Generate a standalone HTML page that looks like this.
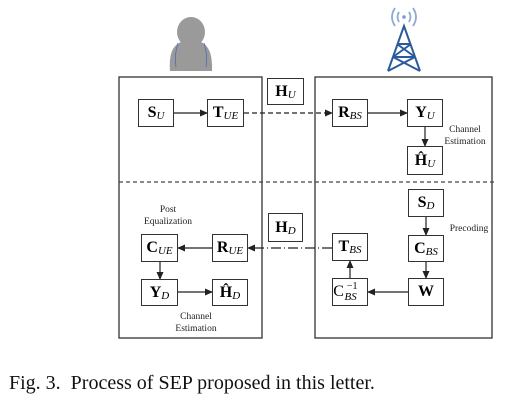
<!DOCTYPE html>
<html><head><style>
body{margin:0;width:513px;height:403px;background:#fff;overflow:hidden;font-family:"Liberation Serif",serif;}
.b{position:absolute;border:1.3px solid #333;box-sizing:border-box;display:flex;align-items:center;justify-content:center;font-size:16px;background:#fff;}
.b b{font-weight:bold}
.b i{font-size:11px;font-style:italic;position:relative;top:3px}
.t{position:absolute;font-size:9.5px;color:#222;text-align:center;line-height:12px}
</style></head><body>
<svg width="513" height="403" style="position:absolute;left:0;top:0">
<defs><marker id="a" markerWidth="8" markerHeight="8" refX="7" refY="4" orient="auto" markerUnits="userSpaceOnUse"><path d="M0,0.5 L8,4 L0,7.5z" fill="#222"/></marker></defs>
<!-- person -->
<ellipse cx="191" cy="32" rx="14" ry="15" fill="#9a9a9a"/>
<path d="M170,71 Q168,47 181,42 L201,42 Q213,47 212,71 Z" fill="#9a9a9a"/>
<path d="M178,43 Q174,55 176,67 M204,43 Q208,55 206,67" stroke="#4a6fb0" fill="none" stroke-width="0.8"/>
<!-- tower -->
<g stroke="#2b5c9a" stroke-width="2" fill="none">
<path d="M388,71 L404,26 L420,71 M393,57 L415,57 M397,44 L411,44 M393,57 L411,44 M415,57 L397,44 M388,71 L415,57 M420,71 L393,57"/>
</g>
<circle cx="404" cy="17" r="1.8" fill="#7a9bd0"/>
<g stroke="#8fa9d6" stroke-width="1.8" fill="none">
<path d="M399,12 Q396,17 399,22 M409,12 Q412,17 409,22 M395,8 Q389,17 395,26 M413,8 Q419,17 413,26"/>
</g>
<rect x="119" y="77" width="143" height="261" fill="none" stroke="#333" stroke-width="1.3"/>
<rect x="315" y="77" width="177" height="261" fill="none" stroke="#333" stroke-width="1.3"/>
<line x1="119" y1="182" x2="494" y2="182" stroke="#444" stroke-width="1.2" stroke-dasharray="4,3"/>
<g stroke="#222" stroke-width="1.2" fill="none" marker-end="url(#a)">
<line x1="174" y1="113" x2="207" y2="113"/>
<line x1="244" y1="113" x2="332" y2="113" stroke-dasharray="5,3"/>
<line x1="368" y1="113" x2="407" y2="113"/>
<line x1="425" y1="127" x2="425" y2="146"/>
<line x1="426" y1="217" x2="426" y2="235"/>
<line x1="426" y1="262" x2="426" y2="278"/>
<line x1="408" y1="292" x2="368" y2="292"/>
<line x1="350" y1="278" x2="350" y2="261"/>
<line x1="332" y1="248" x2="248" y2="248" stroke-dasharray="10,3,1,3"/>
<line x1="212" y1="248" x2="178" y2="248"/>
<line x1="160" y1="262" x2="160" y2="279"/>
<line x1="178" y1="292" x2="212" y2="292"/>
</g>
</svg>
<div class="b" style="left:138px;top:99px;width:36px;height:28px"><b>S</b><i>U</i></div>
<div class="b" style="left:207px;top:99px;width:37px;height:28px"><b>T</b><i>UE</i></div>
<div class="b" style="left:267px;top:78px;width:37px;height:27px"><b>H</b><i>U</i></div>
<div class="b" style="left:332px;top:99px;width:36px;height:28px"><b>R</b><i>BS</i></div>
<div class="b" style="left:407px;top:99px;width:36px;height:28px"><b>Y</b><i>U</i></div>
<div class="b" style="left:407px;top:146px;width:36px;height:29px"><b>Ĥ</b><i>U</i></div>
<div class="b" style="left:408px;top:189px;width:36px;height:28px"><b>S</b><i>D</i></div>
<div class="b" style="left:408px;top:235px;width:36px;height:27px"><b>C</b><i>BS</i></div>
<div class="b" style="left:408px;top:278px;width:36px;height:28px"><b>W</b></div>
<div class="b" style="left:332px;top:278px;width:36px;height:28px">C<span style="font-size:10px;position:relative;top:-6px;left:3px">−1</span><i style="position:relative;left:-10px;top:5px">BS</i></div>
<div class="b" style="left:332px;top:233px;width:36px;height:28px"><b>T</b><i>BS</i></div>
<div class="b" style="left:268px;top:213px;width:35px;height:29px"><b>H</b><i>D</i></div>
<div class="b" style="left:212px;top:234px;width:36px;height:28px"><b>R</b><i>UE</i></div>
<div class="b" style="left:141px;top:234px;width:37px;height:28px"><b>C</b><i>UE</i></div>
<div class="b" style="left:141px;top:279px;width:37px;height:27px"><b>Y</b><i>D</i></div>
<div class="b" style="left:212px;top:279px;width:36px;height:27px"><b>Ĥ</b><i>D</i></div>
<div class="t" style="left:439px;top:124px;width:52px">Channel<br>Estimation</div>
<div class="t" style="left:138px;top:204px;width:60px">Post<br>Equalization</div>
<div class="t" style="left:444px;top:223px;width:50px">Precoding</div>
<div class="t" style="left:168px;top:311px;width:56px">Channel<br>Estimation</div>
<div style="position:absolute;left:9px;top:372px;font-size:20px;color:#111;white-space:pre">Fig. 3.  Process of SEP proposed in this letter.</div>
</body></html>
